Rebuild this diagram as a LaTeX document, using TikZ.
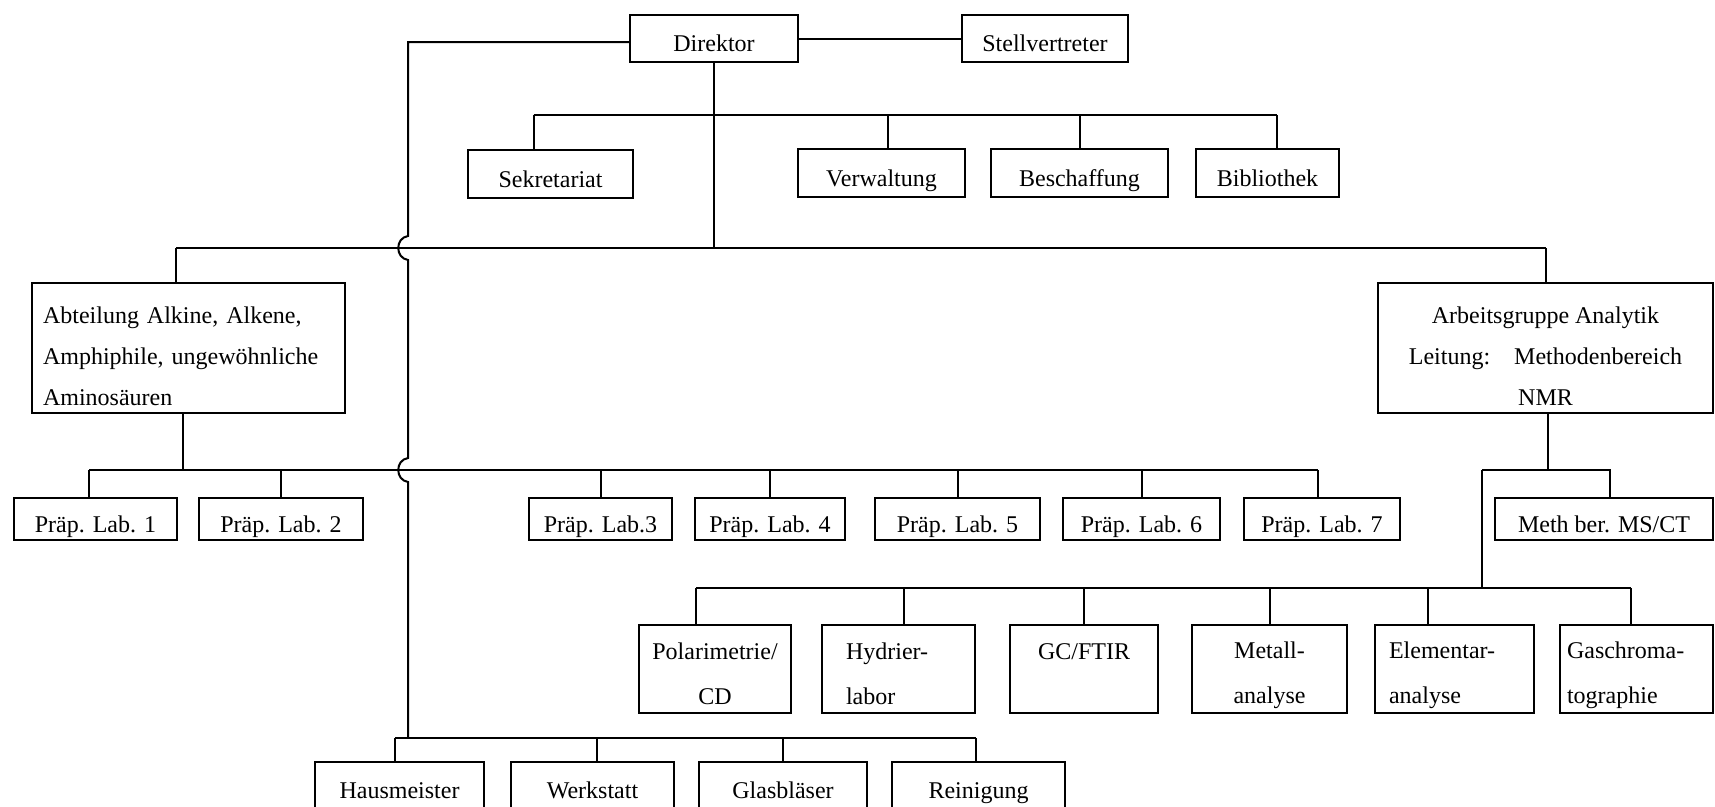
\documentclass[tikz,border=0pt]{standalone}
\usepackage{fontspec}
\setmainfont{Liberation Serif}
\begin{document}
\begin{tikzpicture}[x=1pt,y=-1pt,line width=2pt,
  box/.style={draw,line width=2pt,inner sep=0pt,align=center,font=\fontsize{24}{41}\selectfont},
  one/.style={box,text height=31pt,text depth=5pt},
  abox/.style={box,minimum height=88pt,font=\fontsize{24}{45}\selectfont},
  lbox/.style={one,minimum height=42pt},
  sbox/.style={one,minimum height=48pt}]
\clip (0,0) rectangle (1715,806);
\fill[white] (0,0) rectangle (1715,806);
% bus levels
\coordinate (b1) at (0,115);
\coordinate (b2) at (0,248);
\coordinate (b3) at (0,470);
\coordinate (b4) at (0,588);
\coordinate (b5) at (0,738);
% top
\node[one,minimum width=168pt,minimum height=47pt] (dir) at (714,38.5) {Direktor};
\node[one,minimum width=166pt,minimum height=47pt] (stell) at (1045,38.5) {Stellvertreter};
% staff
\node[sbox,minimum width=165pt] (sek) at (550.5,174) {Sekretariat};
\node[sbox,minimum width=167pt] (verw) at (881.5,173) {Verwaltung};
\node[sbox,minimum width=177pt] (besch) at (1079.5,173) {Beschaffung};
\node[sbox,minimum width=143pt] (bib) at (1267.5,173) {Bibliothek};
% departments
\node[box,align=left,text width=291pt,inner xsep=11pt,minimum height=130pt] (abt) at (188.5,348)
  {\rule{0pt}{37pt}Abteilung Alkine, Alkene,\\Amphiphile, ungewöhnliche\\Aminosäuren\rule[-5pt]{0pt}{5pt}};
\node[box,minimum width=335pt,minimum height=130pt] (arb) at (1545.5,348)
  {\rule{0pt}{37pt}Arbeitsgruppe Analytik\\Leitung:\quad Methodenbereich\\NMR\rule[-5pt]{0pt}{5pt}};
% labs
\node[lbox,minimum width=163pt] (lab1) at (95.5,519) {Präp. Lab. 1};
\node[lbox,minimum width=164pt] (lab2) at (281,519) {Präp. Lab. 2};
\node[lbox,minimum width=143pt] (lab3) at (600.5,519) {Präp. Lab.3};
\node[lbox,minimum width=150pt] (lab4) at (770,519) {Präp. Lab. 4};
\node[lbox,minimum width=165pt] (lab5) at (957.5,519) {Präp. Lab. 5};
\node[lbox,minimum width=157pt] (lab6) at (1141.5,519) {Präp. Lab. 6};
\node[lbox,minimum width=156pt] (lab7) at (1322,519) {Präp. Lab. 7};
\node[lbox,minimum width=218pt] (meth) at (1604,519) {Meth ber. MS/CT};
% analytics
\node[abox,minimum width=152pt] (pol) at (715,669)
  {\rule{0pt}{30pt}Polarimetrie/\\CD\rule[-5pt]{0pt}{5pt}};
\node[abox,align=left,text width=105pt,inner xsep=24pt] (hyd) at (898.5,669)
  {\rule{0pt}{30pt}Hydrier-\\labor\rule[-5pt]{0pt}{5pt}};
\node[abox,minimum width=148pt] (gc) at (1084,669)
  {\rule{0pt}{30pt}GC/FTIR\\\rule[-5pt]{0pt}{5pt}};
\node[abox,minimum width=155pt] (met) at (1269.5,669)
  {\rule{0pt}{30pt}Metall-\\analyse\rule[-5pt]{0pt}{5pt}};
\node[abox,align=left,text width=131pt,inner xsep=14pt] (ele) at (1454.5,669)
  {\rule{0pt}{30pt}Elementar-\\analyse\rule[-5pt]{0pt}{5pt}};
\node[abox,align=left,text width=139pt,inner xsep=7pt] (gas) at (1636.5,669)
  {\rule{0pt}{30pt}Gaschroma-\\tographie\rule[-5pt]{0pt}{5pt}};
% services
\node[one,minimum width=169pt,minimum height=46pt] (haus) at (399.5,785) {Hausmeister};
\node[one,minimum width=163pt,minimum height=46pt] (werk) at (592.5,785) {Werkstatt};
\node[one,minimum width=168pt,minimum height=46pt] (glas) at (783,785) {Glasbläser};
\node[one,minimum width=173pt,minimum height=46pt] (rein) at (978.5,785) {Reinigung};

% connectors: top
\draw (dir.east) -- (stell.west);
\draw (dir.south) -- (dir.south |- b2);
% staff bus
\draw ([xshift=-17pt]sek.north |- b1) -- ([xshift=9.5pt]bib.north |- b1);
\draw ([xshift=-17pt]sek.north) -- ([xshift=-17pt]sek.north |- b1);
\draw ([xshift=6.5pt]verw.north) -- ([xshift=6.5pt]verw.north |- b1);
\draw (besch.north) -- (besch.north |- b1);
\draw ([xshift=9.5pt]bib.north) -- ([xshift=9.5pt]bib.north |- b1);
% department bus
\draw ([xshift=-12.5pt]abt.north |- b2) -- (arb.north |- b2);
\draw ([xshift=-12.5pt]abt.north) -- ([xshift=-12.5pt]abt.north |- b2);
\draw (arb.north) -- (arb.north |- b2);
% lab bus
\draw ([xshift=-5.5pt]abt.south) -- ([xshift=-5.5pt]abt.south |- b3);
\draw ([xshift=-6.5pt]lab1.north |- b3) -- ([xshift=-4pt]lab7.north |- b3);
\draw ([xshift=-6.5pt]lab1.north) -- ([xshift=-6.5pt]lab1.north |- b3);
\draw (lab2.north) -- (lab2.north |- b3);
\draw (lab3.north) -- (lab3.north |- b3);
\draw (lab4.north) -- (lab4.north |- b3);
\draw (lab5.north) -- (lab5.north |- b3);
\draw (lab6.north) -- (lab6.north |- b3);
\draw ([xshift=-4pt]lab7.north) -- ([xshift=-4pt]lab7.north |- b3);
% analytics branch
\coordinate (rj) at (1482,470);
\draw ([xshift=2.5pt]arb.south) -- ([xshift=2.5pt]arb.south |- b3);
\draw (rj) -- ([xshift=6pt]meth.north |- b3) -- ([xshift=6pt]meth.north);
\draw (rj) -- (rj |- b4);
\draw ([xshift=-19pt]pol.north |- b4) -- ([xshift=-5.5pt]gas.north |- b4);
\draw ([xshift=-19pt]pol.north) -- ([xshift=-19pt]pol.north |- b4);
\draw ([xshift=5.5pt]hyd.north) -- ([xshift=5.5pt]hyd.north |- b4);
\draw (gc.north) -- (gc.north |- b4);
\draw (met.north) -- (met.north |- b4);
\draw ([xshift=-26.5pt]ele.north) -- ([xshift=-26.5pt]ele.north |- b4);
\draw ([xshift=-5.5pt]gas.north) -- ([xshift=-5.5pt]gas.north |- b4);
% left line with hops to services
\coordinate (lx) at (408,0);
\draw ([yshift=-3.5pt]dir.west) -- ([yshift=-3.5pt]dir.west -| lx) -- (408,236)
  .. controls (395,238) and (395,258) .. (408,260) -- (408,458)
  .. controls (395,460) and (395,480) .. (408,482) -- (lx |- b5);
\draw ([xshift=-4.5pt]haus.north |- b5) -- ([xshift=-2.5pt]rein.north |- b5);
\draw ([xshift=-4.5pt]haus.north) -- ([xshift=-4.5pt]haus.north |- b5);
\draw ([xshift=4.5pt]werk.north) -- ([xshift=4.5pt]werk.north |- b5);
\draw (glas.north) -- (glas.north |- b5);
\draw ([xshift=-2.5pt]rein.north) -- ([xshift=-2.5pt]rein.north |- b5);
\end{tikzpicture}
\end{document}
